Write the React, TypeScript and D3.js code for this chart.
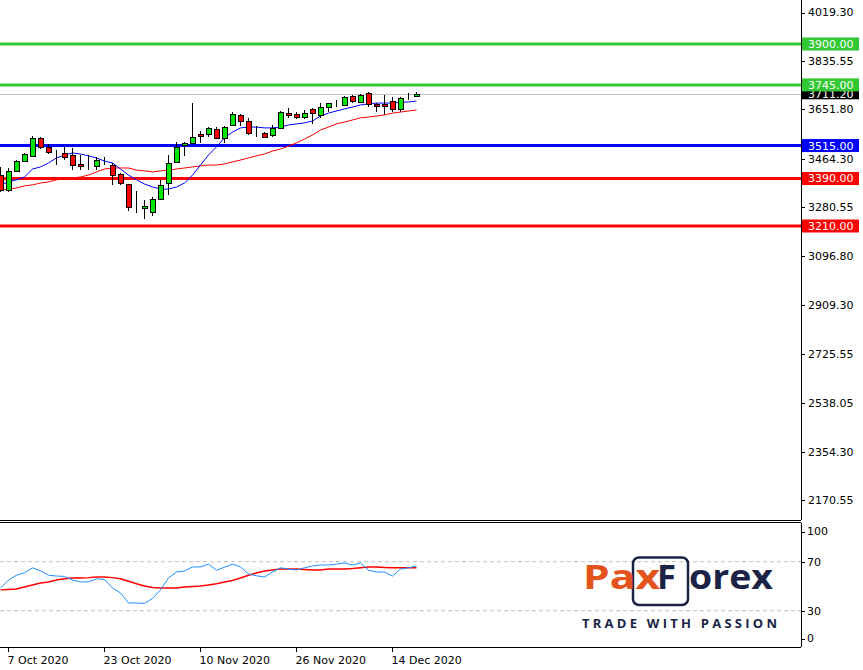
import { useMemo } from 'react';
import * as d3 from 'd3';

// S&P 500 daily, 6 Oct 2020 → 17 Dec 2020 (one bar per trading day)
const DATES = [
  '6 Oct', '7 Oct', '8 Oct', '9 Oct', '12 Oct', '13 Oct', '14 Oct', '15 Oct', '16 Oct', '19 Oct',
  '20 Oct', '21 Oct', '22 Oct', '23 Oct', '26 Oct', '27 Oct', '28 Oct', '29 Oct', '30 Oct', '2 Nov',
  '3 Nov', '4 Nov', '5 Nov', '6 Nov', '9 Nov', '10 Nov', '11 Nov', '12 Nov', '13 Nov', '16 Nov',
  '17 Nov', '18 Nov', '19 Nov', '20 Nov', '23 Nov', '24 Nov', '25 Nov', '26 Nov', '27 Nov', '30 Nov',
  '1 Dec', '2 Dec', '3 Dec', '4 Dec', '7 Dec', '8 Dec', '9 Dec', '10 Dec', '11 Dec', '14 Dec',
  '15 Dec', '16 Dec', '17 Dec',
];

const OPEN = [
  3404, 3347, 3419, 3457, 3476, 3544, 3510, 3491, 3487, 3479,
  3445, 3441, 3438, 3461, 3441, 3407, 3369, 3287, 3278, 3263,
  3313, 3373, 3453, 3518, 3525, 3559, 3559, 3578, 3544, 3593,
  3631, 3608, 3575, 3563, 3555, 3582, 3639, 3635, 3623, 3654,
  3631, 3661, 3675, 3669, 3703, 3680, 3714, 3673, 3673, 3684,
  3654, 3702, 3703,
];
const HIGH = [
  3434, 3430, 3462, 3487, 3551, 3548, 3521, 3498, 3510, 3506,
  3479, 3479, 3472, 3472, 3449, 3411, 3369, 3343, 3309, 3320,
  3385, 3479, 3529, 3527, 3676, 3570, 3585, 3585, 3589, 3642,
  3635, 3620, 3589, 3566, 3593, 3646, 3657, 3642, 3650, 3657,
  3676, 3676, 3688, 3703, 3707, 3711, 3718, 3676, 3707, 3699,
  3699, 3714, 3718,
];
const LOW = [
  3339, 3339, 3415, 3453, 3472, 3502, 3483, 3441, 3460, 3422,
  3422, 3422, 3422, 3441, 3365, 3366, 3267, 3259, 3237, 3248,
  3309, 3328, 3449, 3475, 3525, 3525, 3548, 3540, 3525, 3590,
  3589, 3555, 3547, 3545, 3547, 3578, 3620, 3616, 3616, 3597,
  3620, 3642, 3661, 3669, 3676, 3676, 3661, 3642, 3631, 3642,
  3642, 3688, 3699,
];
const CLOSE = [
  3347, 3419, 3457, 3483, 3544, 3510, 3491, 3489, 3472, 3441,
  3438, 3442, 3460, 3460, 3404, 3373, 3282, 3285, 3286, 3313,
  3366, 3449, 3510, 3526, 3548, 3551, 3582, 3544, 3585, 3635,
  3608, 3563, 3573, 3548, 3582, 3642, 3631, 3623, 3639, 3639,
  3661, 3676, 3677, 3699, 3684, 3707, 3673, 3665, 3665, 3654,
  3695, 3704, 3711.2,
];

// moving averages
const MA_FAST = [
  3366, 3377, 3385, 3396, 3426, 3434, 3449, 3468, 3479, 3487,
  3483, 3476, 3468, 3456, 3449, 3426, 3403, 3385, 3369, 3358,
  3350, 3350, 3358, 3373, 3403, 3441, 3479, 3510, 3544, 3566,
  3582, 3585, 3585, 3582, 3582, 3585, 3593, 3597, 3601, 3608,
  3627, 3638, 3646, 3654, 3661, 3669, 3673, 3676, 3676, 3676,
  3680, 3680, 3684,
];
const MA_SLOW = [
  3347, 3350, 3354, 3362, 3366, 3373, 3377, 3385, 3388, 3392,
  3396, 3403, 3415, 3426, 3430, 3430, 3430, 3422, 3419, 3415,
  3419, 3422, 3426, 3430, 3434, 3438, 3441, 3441, 3445, 3453,
  3460, 3468, 3476, 3483, 3494, 3502, 3513, 3525, 3540, 3555,
  3574, 3585, 3597, 3604, 3612, 3620, 3623, 3627, 3631, 3638,
  3642, 3646, 3650,
];

// oscillator panel (0–100)
const OSC_MAIN = [
  48.5, 55, 59, 61, 65, 62.5, 59, 58.3, 58, 55,
  53.5, 53.5, 56, 55.5, 48.5, 44.5, 36.3, 36.3, 36, 40,
  47, 56.7, 61.6, 62.4, 65.7, 65.7, 68, 63, 65.5, 68,
  65.7, 60, 58.5, 57.5, 61.6, 65, 64, 63.2, 65, 66.5,
  67.3, 67.3, 68, 69, 67.3, 69, 63, 61.6, 61.6, 58.3,
  64, 65, 66.5,
];
const OSC_SIGNAL = [
  47, 47.3, 47.7, 49.3, 51, 52.6, 53.5, 55, 56, 56.7,
  56.7, 57, 57.5, 57.5, 57, 56, 54, 52, 50.2, 49,
  48.5, 48.5, 48.5, 49.3, 49.8, 50.2, 51, 52, 53.5, 54.7,
  56.7, 59, 60.8, 62.4, 63.2, 64, 64, 64, 63.6, 63.2,
  63.2, 64, 64, 64, 64.4, 65, 65.7, 65.7, 65.3, 65,
  65, 65, 65,
];

const PRICE_TICKS = [4019.3, 3835.55, 3651.8, 3464.3, 3280.55, 3096.8, 2909.3, 2725.55, 2538.05, 2354.3, 2170.55];
const OSC_TICKS = [100, 70, 30, 0];
const X_TICK_INDEX = [1, 13, 25, 37, 49];
const X_TICK_LABELS = ['7 Oct 2020', '23 Oct 2020', '10 Nov 2020', '26 Nov 2020', '14 Dec 2020'];

const LEVELS = [
  { value: 3900, color: '#33c933' },
  { value: 3745, color: '#33c933' },
  { value: 3515, color: '#0000ff' },
  { value: 3390, color: '#ff0000' },
  { value: 3210, color: '#ff0000' },
];
const LAST_PRICE = 3711.2;

const W = 863;
const H = 670;
const AXIS_X = 801;
const MAIN_BOTTOM = 520;
const OSC_TOP = 522.5;
const OSC_BOTTOM = 647;
const FONT = '"DejaVu Sans", Tahoma, sans-serif';
const BULL = '#00e600';
const BEAR = '#ff0000';
const NAVY = '#1b2447';
const ORANGE = '#e4531b';

if (typeof document !== 'undefined') document.body.style.margin = '0';

export default function App() {
  const x = useMemo(() => d3.scaleLinear().domain([0, 100]).range([0, 800]), []);
  const y = useMemo(() => d3.scaleLinear().domain([3210, 3900]).range([226, 44]), []);
  const yo = useMemo(() => d3.scaleLinear().domain([30, 70]).range([610.7, 561.7]), []);

  const idx = d3.range(DATES.length);
  const px = (i: number) => Math.round(x(i)) + 0.5;

  const lineMain = d3.line<number>().x((v, i) => px(i)).y((v) => y(v));
  const lineOsc = d3.line<number>().x((v, i) => px(i)).y((v) => yo(v));

  const fmt = d3.format('.2f');

  return (
    <svg width={W} height={H} style={{ display: 'block', background: '#fff' }} fontFamily={FONT}>
      <rect x={0} y={0} width={W} height={H} fill="#fff" />

      {/* main panel */}
      <clipPath id="mainClip">
        <rect x={0} y={0} width={AXIS_X} height={MAIN_BOTTOM} />
      </clipPath>
      <g clipPath="url(#mainClip)">
        {LEVELS.map((l) => (
          <line key={l.value} x1={0} x2={AXIS_X} y1={y(l.value)} y2={y(l.value)} stroke={l.color} strokeWidth={3} />
        ))}
        <line x1={0} x2={AXIS_X} y1={Math.round(y(LAST_PRICE)) + 0.5} y2={Math.round(y(LAST_PRICE)) + 0.5} stroke="#c0c0c0" strokeWidth={1} />

        <path d={lineMain(MA_SLOW) ?? ''} fill="none" stroke="#ff0000" strokeWidth={1} />
        <path d={lineMain(MA_FAST) ?? ''} fill="none" stroke="#0000ff" strokeWidth={1} />

        {idx.map((i) => {
          const cx = px(i);
          const o = OPEN[i];
          const c = CLOSE[i];
          const top = Math.round(y(Math.max(o, c)));
          const bot = Math.round(y(Math.min(o, c)));
          return (
            <g key={i} shapeRendering="crispEdges">
              <line x1={cx} x2={cx} y1={Math.round(y(HIGH[i]))} y2={Math.round(y(LOW[i]))} stroke="#000" strokeWidth={1} />
              <rect
                x={cx - 2.5}
                y={top + 0.5}
                width={5}
                height={Math.max(0, bot - top)}
                fill={c >= o ? BULL : BEAR}
                stroke="#000"
                strokeWidth={1}
              />
            </g>
          );
        })}
      </g>

      {/* oscillator panel */}
      <g>
        {[70, 30].map((v) => (
          <line key={v} x1={0} x2={AXIS_X} y1={yo(v)} y2={yo(v)} stroke="#c0c0c0" strokeWidth={1} strokeDasharray="4 3" />
        ))}
        <path d={lineOsc(OSC_SIGNAL) ?? ''} fill="none" stroke="#ff0000" strokeWidth={1.5} />
        <path d={lineOsc(OSC_MAIN) ?? ''} fill="none" stroke="#1e90ff" strokeWidth={1} />
      </g>

      {/* frames */}
      <g stroke="#000" strokeWidth={1} shapeRendering="crispEdges">
        <line x1={0} x2={AXIS_X} y1={MAIN_BOTTOM} y2={MAIN_BOTTOM} />
        <line x1={0} x2={AXIS_X} y1={OSC_TOP} y2={OSC_TOP} />
        <line x1={0} x2={AXIS_X} y1={OSC_BOTTOM} y2={OSC_BOTTOM} />
        <line x1={AXIS_X} x2={AXIS_X} y1={0} y2={MAIN_BOTTOM} />
        <line x1={AXIS_X} x2={AXIS_X} y1={OSC_TOP} y2={OSC_BOTTOM} />
      </g>

      {/* price axis */}
      {PRICE_TICKS.map((t) => (
        <g key={t}>
          <line x1={AXIS_X} x2={AXIS_X + 4} y1={Math.round(y(t)) + 0.5} y2={Math.round(y(t)) + 0.5} stroke="#000" />
          <text x={808} y={y(t)} dy="0.36em" fontSize={11} fill="#000">
            {fmt(t)}
          </text>
        </g>
      ))}

      {/* oscillator axis */}
      {OSC_TICKS.map((t) => {
        const ty = Math.min(Math.max(yo(t), 531.5), 638.5);
        return (
          <g key={t}>
            <line x1={AXIS_X} x2={AXIS_X + 4} y1={Math.round(ty) + 0.5} y2={Math.round(ty) + 0.5} stroke="#000" />
            <text x={807} y={ty} dy="0.36em" fontSize={11} fill="#000">
              {t}
            </text>
          </g>
        );
      })}

      {/* price tags */}
      <g>
        <rect x={802} y={y(LAST_PRICE) - 6.5} width={57} height={12} fill="#000" />
        <text x={808} y={y(LAST_PRICE)} dy="0.36em" fontSize={11} fill="#fff">
          {fmt(LAST_PRICE)}
        </text>
        {LEVELS.map((l) => (
          <g key={l.value}>
            <rect x={802} y={y(l.value) - 6.5} width={57} height={13} fill={l.color} />
            <text x={808} y={y(l.value)} dy="0.36em" fontSize={11} fill="#fff">
              {fmt(l.value)}
            </text>
          </g>
        ))}
      </g>

      {/* time axis */}
      {X_TICK_INDEX.map((i, k) => (
        <g key={i}>
          <line x1={px(i)} x2={px(i)} y1={OSC_BOTTOM} y2={OSC_BOTTOM + 5} stroke="#000" />
          <text x={px(i) - 1} y={660} dy="0.36em" fontSize={11} fill="#000">
            {X_TICK_LABELS[k]}
          </text>
        </g>
      ))}

      {/* logo */}
      <g fontFamily='"Open Sans", "DejaVu Sans", sans-serif' fontWeight={700}>
        <rect x={633} y={557.5} width={55} height={47.5} rx={6} fill="none" stroke={NAVY} strokeWidth={2.5} />
        <text x={583} y={589} fontSize={34} fill={ORANGE} textLength={77} lengthAdjust="spacingAndGlyphs">
          Pax
        </text>
        <line x1={661} y1={577} x2={666} y2={565} stroke={ORANGE} strokeWidth={3.5} />
        <text x={657} y={589} fontSize={34} fill={NAVY} textLength={19} lengthAdjust="spacingAndGlyphs">
          F
        </text>
        <text x={689} y={589} fontSize={34} fill={NAVY} textLength={84} lengthAdjust="spacingAndGlyphs">
          orex
        </text>
        <text x={582} y={628} fontSize={13} fill={NAVY} textLength={195} lengthAdjust="spacing">
          TRADE WITH PASSION
        </text>
      </g>
    </svg>
  );
}
